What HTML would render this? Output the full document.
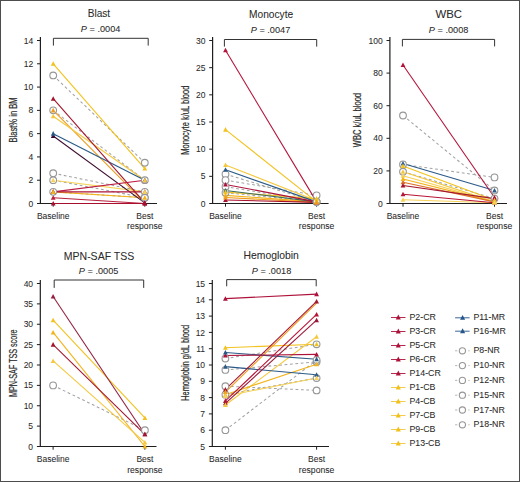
<!DOCTYPE html><html><head><meta charset="utf-8"><style>html,body{margin:0;padding:0;background:#fff;width:520px;height:482px;overflow:hidden}svg{display:block}text{font-family:"Liberation Sans", sans-serif;stroke:#2a2a2a;stroke-width:0.06px}</style></head><body>
<svg width="520" height="482" viewBox="0 0 520 482">
<rect x="0" y="0" width="520" height="482" fill="#fff"/>
<text x="98.9" y="17" font-size="10.5" fill="#2a2a2a" stroke="#2a2a2a" stroke-width="0.05" text-anchor="middle" textLength="22.4" lengthAdjust="spacingAndGlyphs">Blast</text>
<text x="100.6" y="32" font-size="8.5" fill="#2a2a2a" text-anchor="middle" textLength="39.5" lengthAdjust="spacingAndGlyphs"><tspan font-style="italic">P</tspan> = .0004</text>
<path d="M53.4 45.6V38.3H148.2V45.6" fill="none" stroke="#333" stroke-width="1"/>
<path d="M40.4 37.1V203.5H157" fill="none" stroke="#1e1e1e" stroke-width="1.2"/>
<path d="M37 203.5H40.4" stroke="#1e1e1e" stroke-width="1"/>
<text x="33.2" y="206.6" font-size="8.5" fill="#2a2a2a" text-anchor="end">0</text>
<path d="M37 180.21H40.4" stroke="#1e1e1e" stroke-width="1"/>
<text x="33.2" y="183.31" font-size="8.5" fill="#2a2a2a" text-anchor="end">2</text>
<path d="M37 156.93H40.4" stroke="#1e1e1e" stroke-width="1"/>
<text x="33.2" y="160.03" font-size="8.5" fill="#2a2a2a" text-anchor="end">4</text>
<path d="M37 133.64H40.4" stroke="#1e1e1e" stroke-width="1"/>
<text x="33.2" y="136.74" font-size="8.5" fill="#2a2a2a" text-anchor="end">6</text>
<path d="M37 110.36H40.4" stroke="#1e1e1e" stroke-width="1"/>
<text x="33.2" y="113.46" font-size="8.5" fill="#2a2a2a" text-anchor="end">8</text>
<path d="M37 87.07H40.4" stroke="#1e1e1e" stroke-width="1"/>
<text x="33.2" y="90.17" font-size="8.5" fill="#2a2a2a" text-anchor="end">10</text>
<path d="M37 63.79H40.4" stroke="#1e1e1e" stroke-width="1"/>
<text x="33.2" y="66.89" font-size="8.5" fill="#2a2a2a" text-anchor="end">12</text>
<path d="M37 40.5H40.4" stroke="#1e1e1e" stroke-width="1"/>
<text x="33.2" y="43.6" font-size="8.5" fill="#2a2a2a" text-anchor="end">14</text>
<path d="M53.2 203.5V206.7" stroke="#1e1e1e" stroke-width="1"/>
<path d="M144.8 203.5V206.7" stroke="#1e1e1e" stroke-width="1"/>
<text x="53.2" y="218.5" font-size="8.5" fill="#2a2a2a" text-anchor="middle">Baseline</text>
<text x="144.8" y="218.5" font-size="8.5" fill="#2a2a2a" text-anchor="middle">Best</text>
<text x="144.8" y="228.7" font-size="8.5" fill="#2a2a2a" text-anchor="middle" textLength="35.5" lengthAdjust="spacingAndGlyphs">response</text>
<text x="0" y="0" font-size="10.5" style="stroke-width:0.2px" fill="#2a2a2a" text-anchor="middle" textLength="45" lengthAdjust="spacingAndGlyphs" transform="translate(16.7 119.95) rotate(-90)">Blast% in BM</text>
<path d="M53.2 75.43L144.8 162.75" stroke="#a2a2a2" stroke-width="1.05" stroke-dasharray="2.8 2.6" fill="none"/>
<path d="M53.2 110.36L144.8 180.21" stroke="#a2a2a2" stroke-width="1.05" stroke-dasharray="2.8 2.6" fill="none"/>
<path d="M53.2 173.23L144.8 191.86" stroke="#a2a2a2" stroke-width="1.05" stroke-dasharray="2.8 2.6" fill="none"/>
<path d="M53.2 180.21L144.8 197.68" stroke="#a2a2a2" stroke-width="1.05" stroke-dasharray="2.8 2.6" fill="none"/>
<path d="M53.2 191.86L144.8 197.68" stroke="#a2a2a2" stroke-width="1.05" stroke-dasharray="2.8 2.6" fill="none"/>
<path d="M53.2 63.79L144.8 168.57" stroke="#f2c21e" stroke-width="1.1" fill="none"/>
<path d="M53.2 110.36L144.8 202.92" stroke="#ef9b1c" stroke-width="1.1" fill="none"/>
<path d="M53.2 116.18L144.8 180.21" stroke="#f4c93e" stroke-width="1.1" fill="none"/>
<path d="M53.2 180.21L144.8 191.86" stroke="#f6d25a" stroke-width="1.1" fill="none"/>
<path d="M53.2 191.86L144.8 197.68" stroke="#f3b31a" stroke-width="1.1" fill="none"/>
<path d="M53.2 133.64L144.8 180.21" stroke="#2b5a86" stroke-width="1.1" fill="none"/>
<path d="M53.2 135.97L144.8 202.92" stroke="#3e0d31" stroke-width="1.1" fill="none"/>
<path d="M53.2 98.71L144.8 202.92" stroke="#a3162e" stroke-width="1.1" fill="none"/>
<path d="M53.2 191.86L144.8 180.21" stroke="#bb1a40" stroke-width="1.1" fill="none"/>
<path d="M53.2 191.86L144.8 191.86" stroke="#ad123a" stroke-width="1.1" fill="none"/>
<path d="M53.2 197.68L144.8 203.5" stroke="#b8203e" stroke-width="1.1" fill="none"/>
<path d="M53.2 203.5L144.8 203.5" stroke="#a80f2c" stroke-width="1.1" fill="none"/>
<circle cx="53.2" cy="75.43" r="3.35" fill="#fff" stroke="#969696" stroke-width="1.1"/>
<circle cx="144.8" cy="162.75" r="3.35" fill="#fff" stroke="#969696" stroke-width="1.1"/>
<circle cx="53.2" cy="110.36" r="3.35" fill="#fff" stroke="#969696" stroke-width="1.1"/>
<circle cx="144.8" cy="180.21" r="3.35" fill="#fff" stroke="#969696" stroke-width="1.1"/>
<circle cx="53.2" cy="173.23" r="3.35" fill="#fff" stroke="#969696" stroke-width="1.1"/>
<circle cx="144.8" cy="191.86" r="3.35" fill="#fff" stroke="#969696" stroke-width="1.1"/>
<circle cx="53.2" cy="180.21" r="3.35" fill="#fff" stroke="#969696" stroke-width="1.1"/>
<circle cx="144.8" cy="197.68" r="3.35" fill="#fff" stroke="#969696" stroke-width="1.1"/>
<circle cx="53.2" cy="191.86" r="3.35" fill="#fff" stroke="#969696" stroke-width="1.1"/>
<circle cx="144.8" cy="197.68" r="3.35" fill="#fff" stroke="#969696" stroke-width="1.1"/>
<path d="M53.2 133.45L55.6 138.01L50.8 138.01Z" fill="#3e0d31"/>
<path d="M144.8 200.4L147.2 204.96L142.4 204.96Z" fill="#3e0d31"/>
<path d="M53.2 96.19L55.6 100.75L50.8 100.75Z" fill="#a3162e"/>
<path d="M144.8 200.4L147.2 204.96L142.4 204.96Z" fill="#a3162e"/>
<path d="M53.2 189.34L55.6 193.9L50.8 193.9Z" fill="#bb1a40"/>
<path d="M144.8 177.69L147.2 182.25L142.4 182.25Z" fill="#bb1a40"/>
<path d="M53.2 189.34L55.6 193.9L50.8 193.9Z" fill="#ad123a"/>
<path d="M144.8 189.34L147.2 193.9L142.4 193.9Z" fill="#ad123a"/>
<path d="M53.2 195.16L55.6 199.72L50.8 199.72Z" fill="#b8203e"/>
<path d="M144.8 200.98L147.2 205.54L142.4 205.54Z" fill="#b8203e"/>
<path d="M53.2 200.98L55.6 205.54L50.8 205.54Z" fill="#a80f2c"/>
<path d="M144.8 200.98L147.2 205.54L142.4 205.54Z" fill="#a80f2c"/>
<path d="M53.2 131.12L55.6 135.68L50.8 135.68Z" fill="#2b5a86"/>
<path d="M144.8 177.69L147.2 182.25L142.4 182.25Z" fill="#2b5a86"/>
<path d="M53.2 61.27L55.6 65.83L50.8 65.83Z" fill="#f2c21e"/>
<path d="M144.8 166.05L147.2 170.61L142.4 170.61Z" fill="#f2c21e"/>
<path d="M53.2 107.84L55.6 112.4L50.8 112.4Z" fill="#ef9b1c"/>
<path d="M53.2 113.66L55.6 118.22L50.8 118.22Z" fill="#f4c93e"/>
<path d="M144.8 177.69L147.2 182.25L142.4 182.25Z" fill="#f4c93e"/>
<path d="M53.2 177.69L55.6 182.25L50.8 182.25Z" fill="#f6d25a"/>
<path d="M144.8 189.34L147.2 193.9L142.4 193.9Z" fill="#f6d25a"/>
<path d="M53.2 189.34L55.6 193.9L50.8 193.9Z" fill="#f3b31a"/>
<path d="M144.8 195.16L147.2 199.72L142.4 199.72Z" fill="#f3b31a"/>
<text x="271.1" y="17.6" font-size="10.5" fill="#2a2a2a" stroke="#2a2a2a" stroke-width="0.05" text-anchor="middle" textLength="44.1" lengthAdjust="spacingAndGlyphs">Monocyte</text>
<text x="270.5" y="32.5" font-size="8.5" fill="#2a2a2a" text-anchor="middle" textLength="39.5" lengthAdjust="spacingAndGlyphs"><tspan font-style="italic">P</tspan> = .0047</text>
<path d="M224.4 46.6V39.5H316.7V46.6" fill="none" stroke="#333" stroke-width="1"/>
<path d="M212.6 37.1V203.5H328.6" fill="none" stroke="#1e1e1e" stroke-width="1.2"/>
<path d="M209.2 203.5H212.6" stroke="#1e1e1e" stroke-width="1"/>
<text x="205.4" y="206.6" font-size="8.5" fill="#2a2a2a" text-anchor="end">0</text>
<path d="M209.2 176.33H212.6" stroke="#1e1e1e" stroke-width="1"/>
<text x="205.4" y="179.43" font-size="8.5" fill="#2a2a2a" text-anchor="end">5</text>
<path d="M209.2 149.17H212.6" stroke="#1e1e1e" stroke-width="1"/>
<text x="205.4" y="152.27" font-size="8.5" fill="#2a2a2a" text-anchor="end">10</text>
<path d="M209.2 122H212.6" stroke="#1e1e1e" stroke-width="1"/>
<text x="205.4" y="125.1" font-size="8.5" fill="#2a2a2a" text-anchor="end">15</text>
<path d="M209.2 94.83H212.6" stroke="#1e1e1e" stroke-width="1"/>
<text x="205.4" y="97.93" font-size="8.5" fill="#2a2a2a" text-anchor="end">20</text>
<path d="M209.2 67.67H212.6" stroke="#1e1e1e" stroke-width="1"/>
<text x="205.4" y="70.77" font-size="8.5" fill="#2a2a2a" text-anchor="end">25</text>
<path d="M209.2 40.5H212.6" stroke="#1e1e1e" stroke-width="1"/>
<text x="205.4" y="43.6" font-size="8.5" fill="#2a2a2a" text-anchor="end">30</text>
<path d="M225.5 203.5V206.7" stroke="#1e1e1e" stroke-width="1"/>
<path d="M316.6 203.5V206.7" stroke="#1e1e1e" stroke-width="1"/>
<text x="225.5" y="218.5" font-size="8.5" fill="#2a2a2a" text-anchor="middle">Baseline</text>
<text x="316.6" y="218.5" font-size="8.5" fill="#2a2a2a" text-anchor="middle">Best</text>
<text x="316.6" y="228.7" font-size="8.5" fill="#2a2a2a" text-anchor="middle" textLength="35.5" lengthAdjust="spacingAndGlyphs">response</text>
<text x="0" y="0" font-size="10.5" style="stroke-width:0.2px" fill="#2a2a2a" text-anchor="middle" textLength="69.1" lengthAdjust="spacingAndGlyphs" transform="translate(188.9 120.2) rotate(-90)">Monocyte k/uL blood</text>
<path d="M225.5 174.16L316.6 201.87" stroke="#a2a2a2" stroke-width="1.05" stroke-dasharray="2.8 2.6" fill="none"/>
<path d="M225.5 180.14L316.6 195.35" stroke="#a2a2a2" stroke-width="1.05" stroke-dasharray="2.8 2.6" fill="none"/>
<path d="M225.5 186.66L316.6 201.87" stroke="#a2a2a2" stroke-width="1.05" stroke-dasharray="2.8 2.6" fill="none"/>
<path d="M225.5 192.63L316.6 201.87" stroke="#a2a2a2" stroke-width="1.05" stroke-dasharray="2.8 2.6" fill="none"/>
<path d="M225.5 129.61L316.6 201.87" stroke="#f2c21e" stroke-width="1.1" fill="none"/>
<path d="M225.5 164.92L316.6 200.78" stroke="#f4c93e" stroke-width="1.1" fill="none"/>
<path d="M225.5 192.09L316.6 198.61" stroke="#f2c21e" stroke-width="1.1" fill="none"/>
<path d="M225.5 195.35L316.6 201.87" stroke="#f3b31a" stroke-width="1.1" fill="none"/>
<path d="M225.5 197.52L316.6 202.41" stroke="#ef9b1c" stroke-width="1.1" fill="none"/>
<path d="M225.5 169.81L316.6 201.87" stroke="#2b5a86" stroke-width="1.1" fill="none"/>
<path d="M225.5 190.46L316.6 201.87" stroke="#3a6a5a" stroke-width="1.1" fill="none"/>
<path d="M225.5 50.28L316.6 201.87" stroke="#b3133a" stroke-width="1.1" fill="none"/>
<path d="M225.5 184.48L316.6 201.87" stroke="#ad123a" stroke-width="1.1" fill="none"/>
<path d="M225.5 199.97L316.6 202.41" stroke="#a80f2c" stroke-width="1.1" fill="none"/>
<circle cx="225.5" cy="174.16" r="3.35" fill="#fff" stroke="#969696" stroke-width="1.1"/>
<circle cx="316.6" cy="201.87" r="3.35" fill="#fff" stroke="#969696" stroke-width="1.1"/>
<circle cx="225.5" cy="180.14" r="3.35" fill="#fff" stroke="#969696" stroke-width="1.1"/>
<circle cx="316.6" cy="195.35" r="3.35" fill="#fff" stroke="#969696" stroke-width="1.1"/>
<circle cx="225.5" cy="186.66" r="3.35" fill="#fff" stroke="#969696" stroke-width="1.1"/>
<circle cx="316.6" cy="201.87" r="3.35" fill="#fff" stroke="#969696" stroke-width="1.1"/>
<circle cx="225.5" cy="192.63" r="3.35" fill="#fff" stroke="#969696" stroke-width="1.1"/>
<circle cx="316.6" cy="201.87" r="3.35" fill="#fff" stroke="#969696" stroke-width="1.1"/>
<path d="M225.5 47.76L227.9 52.32L223.1 52.32Z" fill="#b3133a"/>
<path d="M316.6 199.35L319 203.91L314.2 203.91Z" fill="#b3133a"/>
<path d="M225.5 181.96L227.9 186.52L223.1 186.52Z" fill="#ad123a"/>
<path d="M316.6 199.35L319 203.91L314.2 203.91Z" fill="#ad123a"/>
<path d="M225.5 197.45L227.9 202.01L223.1 202.01Z" fill="#a80f2c"/>
<path d="M316.6 199.89L319 204.45L314.2 204.45Z" fill="#a80f2c"/>
<path d="M225.5 167.29L227.9 171.85L223.1 171.85Z" fill="#2b5a86"/>
<path d="M316.6 199.35L319 203.91L314.2 203.91Z" fill="#2b5a86"/>
<path d="M225.5 187.94L227.9 192.5L223.1 192.5Z" fill="#3a6a5a"/>
<path d="M316.6 199.35L319 203.91L314.2 203.91Z" fill="#3a6a5a"/>
<path d="M225.5 127.09L227.9 131.65L223.1 131.65Z" fill="#f2c21e"/>
<path d="M316.6 199.35L319 203.91L314.2 203.91Z" fill="#f2c21e"/>
<path d="M225.5 162.4L227.9 166.96L223.1 166.96Z" fill="#f4c93e"/>
<path d="M316.6 198.26L319 202.82L314.2 202.82Z" fill="#f4c93e"/>
<path d="M225.5 189.57L227.9 194.13L223.1 194.13Z" fill="#f2c21e"/>
<path d="M316.6 196.09L319 200.65L314.2 200.65Z" fill="#f2c21e"/>
<path d="M225.5 192.83L227.9 197.39L223.1 197.39Z" fill="#f3b31a"/>
<path d="M316.6 199.35L319 203.91L314.2 203.91Z" fill="#f3b31a"/>
<path d="M225.5 195L227.9 199.56L223.1 199.56Z" fill="#ef9b1c"/>
<path d="M316.6 199.89L319 204.45L314.2 204.45Z" fill="#ef9b1c"/>
<text x="448.7" y="18.2" font-size="10.5" fill="#2a2a2a" stroke="#2a2a2a" stroke-width="0.05" text-anchor="middle" textLength="26.5" lengthAdjust="spacingAndGlyphs">WBC</text>
<text x="448.6" y="32.5" font-size="8.5" fill="#2a2a2a" text-anchor="middle" textLength="39.5" lengthAdjust="spacingAndGlyphs"><tspan font-style="italic">P</tspan> = .0008</text>
<path d="M402.4 46.4V39.4H494.6V46.4" fill="none" stroke="#333" stroke-width="1"/>
<path d="M389.9 37.1V203.5H507" fill="none" stroke="#1e1e1e" stroke-width="1.2"/>
<path d="M386.5 203.5H389.9" stroke="#1e1e1e" stroke-width="1"/>
<text x="382.7" y="206.6" font-size="8.5" fill="#2a2a2a" text-anchor="end">0</text>
<path d="M386.5 170.9H389.9" stroke="#1e1e1e" stroke-width="1"/>
<text x="382.7" y="174" font-size="8.5" fill="#2a2a2a" text-anchor="end">20</text>
<path d="M386.5 138.3H389.9" stroke="#1e1e1e" stroke-width="1"/>
<text x="382.7" y="141.4" font-size="8.5" fill="#2a2a2a" text-anchor="end">40</text>
<path d="M386.5 105.7H389.9" stroke="#1e1e1e" stroke-width="1"/>
<text x="382.7" y="108.8" font-size="8.5" fill="#2a2a2a" text-anchor="end">60</text>
<path d="M386.5 73.1H389.9" stroke="#1e1e1e" stroke-width="1"/>
<text x="382.7" y="76.2" font-size="8.5" fill="#2a2a2a" text-anchor="end">80</text>
<path d="M386.5 40.5H389.9" stroke="#1e1e1e" stroke-width="1"/>
<text x="382.7" y="43.6" font-size="8.5" fill="#2a2a2a" text-anchor="end">100</text>
<path d="M403 203.5V206.7" stroke="#1e1e1e" stroke-width="1"/>
<path d="M494.5 203.5V206.7" stroke="#1e1e1e" stroke-width="1"/>
<text x="403" y="218.5" font-size="8.5" fill="#2a2a2a" text-anchor="middle">Baseline</text>
<text x="494.5" y="218.5" font-size="8.5" fill="#2a2a2a" text-anchor="middle">Best</text>
<text x="494.5" y="228.7" font-size="8.5" fill="#2a2a2a" text-anchor="middle" textLength="35.5" lengthAdjust="spacingAndGlyphs">response</text>
<text x="0" y="0" font-size="10.5" style="stroke-width:0.2px" fill="#2a2a2a" text-anchor="middle" textLength="54.2" lengthAdjust="spacingAndGlyphs" transform="translate(361.2 120.05) rotate(-90)">WBC k/uL blood</text>
<path d="M403 115.48L494.5 190.46" stroke="#a2a2a2" stroke-width="1.05" stroke-dasharray="2.8 2.6" fill="none"/>
<path d="M403 164.38L494.5 177.42" stroke="#a2a2a2" stroke-width="1.05" stroke-dasharray="2.8 2.6" fill="none"/>
<path d="M403 171.72L494.5 198.61" stroke="#a2a2a2" stroke-width="1.05" stroke-dasharray="2.8 2.6" fill="none"/>
<path d="M403 166.01L494.5 200.24" stroke="#f2c21e" stroke-width="1.1" fill="none"/>
<path d="M403 171.72L494.5 201.87" stroke="#f4c93e" stroke-width="1.1" fill="none"/>
<path d="M403 175.79L494.5 201.87" stroke="#f6d25a" stroke-width="1.1" fill="none"/>
<path d="M403 179.05L494.5 201.87" stroke="#f3b31a" stroke-width="1.1" fill="none"/>
<path d="M403 199.75L494.5 202.69" stroke="#f6d25a" stroke-width="1.1" fill="none"/>
<path d="M403 163.56L494.5 190.46" stroke="#2b5a86" stroke-width="1.1" fill="none"/>
<path d="M403 64.95L494.5 197.47" stroke="#b3133a" stroke-width="1.1" fill="none"/>
<path d="M403 182.31L494.5 201.87" stroke="#e0702a" stroke-width="1.1" fill="none"/>
<path d="M403 185.57L494.5 198.61" stroke="#a3162e" stroke-width="1.1" fill="none"/>
<path d="M403 194.21L494.5 202.69" stroke="#b81436" stroke-width="1.1" fill="none"/>
<circle cx="403" cy="115.48" r="3.35" fill="#fff" stroke="#969696" stroke-width="1.1"/>
<circle cx="494.5" cy="190.46" r="3.35" fill="#fff" stroke="#969696" stroke-width="1.1"/>
<circle cx="403" cy="164.38" r="3.35" fill="#fff" stroke="#969696" stroke-width="1.1"/>
<circle cx="494.5" cy="177.42" r="3.35" fill="#fff" stroke="#969696" stroke-width="1.1"/>
<circle cx="403" cy="171.72" r="3.35" fill="#fff" stroke="#969696" stroke-width="1.1"/>
<circle cx="494.5" cy="198.61" r="3.35" fill="#fff" stroke="#969696" stroke-width="1.1"/>
<path d="M403 62.43L405.4 66.99L400.6 66.99Z" fill="#b3133a"/>
<path d="M494.5 194.95L496.9 199.51L492.1 199.51Z" fill="#b3133a"/>
<path d="M403 179.79L405.4 184.35L400.6 184.35Z" fill="#e0702a"/>
<path d="M494.5 199.35L496.9 203.91L492.1 203.91Z" fill="#e0702a"/>
<path d="M403 183.05L405.4 187.61L400.6 187.61Z" fill="#a3162e"/>
<path d="M494.5 196.09L496.9 200.65L492.1 200.65Z" fill="#a3162e"/>
<path d="M403 191.69L405.4 196.25L400.6 196.25Z" fill="#b81436"/>
<path d="M494.5 200.16L496.9 204.72L492.1 204.72Z" fill="#b81436"/>
<path d="M403 161.04L405.4 165.6L400.6 165.6Z" fill="#2b5a86"/>
<path d="M494.5 187.94L496.9 192.5L492.1 192.5Z" fill="#2b5a86"/>
<path d="M403 163.49L405.4 168.05L400.6 168.05Z" fill="#f2c21e"/>
<path d="M494.5 197.72L496.9 202.28L492.1 202.28Z" fill="#f2c21e"/>
<path d="M403 169.19L405.4 173.75L400.6 173.75Z" fill="#f4c93e"/>
<path d="M494.5 199.35L496.9 203.91L492.1 203.91Z" fill="#f4c93e"/>
<path d="M403 173.27L405.4 177.83L400.6 177.83Z" fill="#f6d25a"/>
<path d="M494.5 199.35L496.9 203.91L492.1 203.91Z" fill="#f6d25a"/>
<path d="M403 176.53L405.4 181.09L400.6 181.09Z" fill="#f3b31a"/>
<path d="M494.5 199.35L496.9 203.91L492.1 203.91Z" fill="#f3b31a"/>
<path d="M403 197.23L405.4 201.79L400.6 201.79Z" fill="#f6d25a"/>
<path d="M494.5 200.16L496.9 204.72L492.1 204.72Z" fill="#f6d25a"/>
<text x="99" y="259.5" font-size="10.5" fill="#2a2a2a" stroke="#2a2a2a" stroke-width="0.05" text-anchor="middle" textLength="70.4" lengthAdjust="spacingAndGlyphs">MPN-SAF TSS</text>
<text x="98.6" y="273.8" font-size="8.5" fill="#2a2a2a" text-anchor="middle" textLength="39.5" lengthAdjust="spacingAndGlyphs"><tspan font-style="italic">P</tspan> = .0005</text>
<path d="M54.2 287.9V280H143.7V287.9" fill="none" stroke="#333" stroke-width="1"/>
<path d="M40.3 280.1V446.5H156.5" fill="none" stroke="#1e1e1e" stroke-width="1.2"/>
<path d="M36.9 446.5H40.3" stroke="#1e1e1e" stroke-width="1"/>
<text x="33.1" y="449.6" font-size="8.5" fill="#2a2a2a" text-anchor="end">0</text>
<path d="M36.9 426.12H40.3" stroke="#1e1e1e" stroke-width="1"/>
<text x="33.1" y="429.23" font-size="8.5" fill="#2a2a2a" text-anchor="end">5</text>
<path d="M36.9 405.75H40.3" stroke="#1e1e1e" stroke-width="1"/>
<text x="33.1" y="408.85" font-size="8.5" fill="#2a2a2a" text-anchor="end">10</text>
<path d="M36.9 385.38H40.3" stroke="#1e1e1e" stroke-width="1"/>
<text x="33.1" y="388.48" font-size="8.5" fill="#2a2a2a" text-anchor="end">15</text>
<path d="M36.9 365H40.3" stroke="#1e1e1e" stroke-width="1"/>
<text x="33.1" y="368.1" font-size="8.5" fill="#2a2a2a" text-anchor="end">20</text>
<path d="M36.9 344.62H40.3" stroke="#1e1e1e" stroke-width="1"/>
<text x="33.1" y="347.73" font-size="8.5" fill="#2a2a2a" text-anchor="end">25</text>
<path d="M36.9 324.25H40.3" stroke="#1e1e1e" stroke-width="1"/>
<text x="33.1" y="327.35" font-size="8.5" fill="#2a2a2a" text-anchor="end">30</text>
<path d="M36.9 303.88H40.3" stroke="#1e1e1e" stroke-width="1"/>
<text x="33.1" y="306.98" font-size="8.5" fill="#2a2a2a" text-anchor="end">35</text>
<path d="M36.9 283.5H40.3" stroke="#1e1e1e" stroke-width="1"/>
<text x="33.1" y="286.6" font-size="8.5" fill="#2a2a2a" text-anchor="end">40</text>
<path d="M53.1 446.5V449.7" stroke="#1e1e1e" stroke-width="1"/>
<path d="M144.9 446.5V449.7" stroke="#1e1e1e" stroke-width="1"/>
<text x="53.1" y="461.5" font-size="8.5" fill="#2a2a2a" text-anchor="middle">Baseline</text>
<text x="144.9" y="461.5" font-size="8.5" fill="#2a2a2a" text-anchor="middle">Best</text>
<text x="144.9" y="472.5" font-size="8.5" fill="#2a2a2a" text-anchor="middle" textLength="35.5" lengthAdjust="spacingAndGlyphs">response</text>
<text x="0" y="0" font-size="10.5" style="stroke-width:0.2px" fill="#2a2a2a" text-anchor="middle" textLength="67.5" lengthAdjust="spacingAndGlyphs" transform="translate(17 363.2) rotate(-90)">MPN-SAF TSS score</text>
<path d="M53.1 385.38L144.9 430.2" stroke="#a2a2a2" stroke-width="1.05" stroke-dasharray="2.8 2.6" fill="none"/>
<path d="M53.1 320.18L144.9 417.98" stroke="#f2c21e" stroke-width="1.1" fill="none"/>
<path d="M53.1 332.4L144.9 446.5" stroke="#f3b31a" stroke-width="1.1" fill="none"/>
<path d="M53.1 360.93L144.9 442.43" stroke="#f4c93e" stroke-width="1.1" fill="none"/>
<path d="M53.1 296.54L144.9 434.27" stroke="#952040" stroke-width="1.1" fill="none"/>
<path d="M53.1 344.62L144.9 434.27" stroke="#a3162e" stroke-width="1.1" fill="none"/>
<circle cx="53.1" cy="385.38" r="3.35" fill="#fff" stroke="#969696" stroke-width="1.1"/>
<circle cx="144.9" cy="430.2" r="3.35" fill="#fff" stroke="#969696" stroke-width="1.1"/>
<path d="M53.1 294.02L55.5 298.58L50.7 298.58Z" fill="#952040"/>
<path d="M144.9 431.75L147.3 436.31L142.5 436.31Z" fill="#952040"/>
<path d="M53.1 342.11L55.5 346.67L50.7 346.67Z" fill="#a3162e"/>
<path d="M144.9 431.75L147.3 436.31L142.5 436.31Z" fill="#a3162e"/>
<path d="M53.1 317.66L55.5 322.22L50.7 322.22Z" fill="#f2c21e"/>
<path d="M144.9 415.46L147.3 420.02L142.5 420.02Z" fill="#f2c21e"/>
<path d="M53.1 329.88L55.5 334.44L50.7 334.44Z" fill="#f3b31a"/>
<path d="M144.9 443.98L147.3 448.54L142.5 448.54Z" fill="#f3b31a"/>
<path d="M53.1 358.41L55.5 362.97L50.7 362.97Z" fill="#f4c93e"/>
<path d="M144.9 439.91L147.3 444.47L142.5 444.47Z" fill="#f4c93e"/>
<text x="271.2" y="258.6" font-size="10.5" fill="#2a2a2a" stroke="#2a2a2a" stroke-width="0.05" text-anchor="middle" textLength="55.3" lengthAdjust="spacingAndGlyphs">Hemoglobin</text>
<text x="271.5" y="273.5" font-size="8.5" fill="#2a2a2a" text-anchor="middle" textLength="39.5" lengthAdjust="spacingAndGlyphs"><tspan font-style="italic">P</tspan> = .0018</text>
<path d="M226.7 286.3V279.6H316.2V286.3" fill="none" stroke="#333" stroke-width="1"/>
<path d="M212.3 280.1V446.5H329" fill="none" stroke="#1e1e1e" stroke-width="1.2"/>
<path d="M208.9 446.5H212.3" stroke="#1e1e1e" stroke-width="1"/>
<text x="205.1" y="449.6" font-size="8.5" fill="#2a2a2a" text-anchor="end">5</text>
<path d="M208.9 430.2H212.3" stroke="#1e1e1e" stroke-width="1"/>
<text x="205.1" y="433.3" font-size="8.5" fill="#2a2a2a" text-anchor="end">6</text>
<path d="M208.9 413.9H212.3" stroke="#1e1e1e" stroke-width="1"/>
<text x="205.1" y="417" font-size="8.5" fill="#2a2a2a" text-anchor="end">7</text>
<path d="M208.9 397.6H212.3" stroke="#1e1e1e" stroke-width="1"/>
<text x="205.1" y="400.7" font-size="8.5" fill="#2a2a2a" text-anchor="end">8</text>
<path d="M208.9 381.3H212.3" stroke="#1e1e1e" stroke-width="1"/>
<text x="205.1" y="384.4" font-size="8.5" fill="#2a2a2a" text-anchor="end">9</text>
<path d="M208.9 365H212.3" stroke="#1e1e1e" stroke-width="1"/>
<text x="205.1" y="368.1" font-size="8.5" fill="#2a2a2a" text-anchor="end">10</text>
<path d="M208.9 348.7H212.3" stroke="#1e1e1e" stroke-width="1"/>
<text x="205.1" y="351.8" font-size="8.5" fill="#2a2a2a" text-anchor="end">11</text>
<path d="M208.9 332.4H212.3" stroke="#1e1e1e" stroke-width="1"/>
<text x="205.1" y="335.5" font-size="8.5" fill="#2a2a2a" text-anchor="end">12</text>
<path d="M208.9 316.1H212.3" stroke="#1e1e1e" stroke-width="1"/>
<text x="205.1" y="319.2" font-size="8.5" fill="#2a2a2a" text-anchor="end">13</text>
<path d="M208.9 299.8H212.3" stroke="#1e1e1e" stroke-width="1"/>
<text x="205.1" y="302.9" font-size="8.5" fill="#2a2a2a" text-anchor="end">14</text>
<path d="M208.9 283.5H212.3" stroke="#1e1e1e" stroke-width="1"/>
<text x="205.1" y="286.6" font-size="8.5" fill="#2a2a2a" text-anchor="end">15</text>
<path d="M225.4 446.5V449.7" stroke="#1e1e1e" stroke-width="1"/>
<path d="M316.6 446.5V449.7" stroke="#1e1e1e" stroke-width="1"/>
<text x="225.4" y="461.5" font-size="8.5" fill="#2a2a2a" text-anchor="middle">Baseline</text>
<text x="316.6" y="461.5" font-size="8.5" fill="#2a2a2a" text-anchor="middle">Best</text>
<text x="316.6" y="472.5" font-size="8.5" fill="#2a2a2a" text-anchor="middle" textLength="35.5" lengthAdjust="spacingAndGlyphs">response</text>
<text x="0" y="0" font-size="10.5" style="stroke-width:0.2px" fill="#2a2a2a" text-anchor="middle" textLength="75.9" lengthAdjust="spacingAndGlyphs" transform="translate(189 362.9) rotate(-90)">Hemoglobin g/dL blood</text>
<path d="M225.4 358.48L316.6 344.3" stroke="#a2a2a2" stroke-width="1.05" stroke-dasharray="2.8 2.6" fill="none"/>
<path d="M225.4 369.89L316.6 361.9" stroke="#a2a2a2" stroke-width="1.05" stroke-dasharray="2.8 2.6" fill="none"/>
<path d="M225.4 386.19L316.6 390.43" stroke="#a2a2a2" stroke-width="1.05" stroke-dasharray="2.8 2.6" fill="none"/>
<path d="M225.4 430.2L316.6 360.11" stroke="#a2a2a2" stroke-width="1.05" stroke-dasharray="2.8 2.6" fill="none"/>
<path d="M225.4 394.67L316.6 378.04" stroke="#a2a2a2" stroke-width="1.05" stroke-dasharray="2.8 2.6" fill="none"/>
<path d="M225.4 347.72L316.6 344.3" stroke="#f2c21e" stroke-width="1.1" fill="none"/>
<path d="M225.4 404.94L316.6 336.8" stroke="#f4c93e" stroke-width="1.1" fill="none"/>
<path d="M225.4 392.06L316.6 303.06" stroke="#ef9b1c" stroke-width="1.1" fill="none"/>
<path d="M225.4 394.67L316.6 364.19" stroke="#f3b31a" stroke-width="1.1" fill="none"/>
<path d="M225.4 395.97L316.6 378.04" stroke="#f6d25a" stroke-width="1.1" fill="none"/>
<path d="M225.4 352.45L316.6 359.3" stroke="#2b5a86" stroke-width="1.1" fill="none"/>
<path d="M225.4 366.63L316.6 374.78" stroke="#2b5a86" stroke-width="1.1" fill="none"/>
<path d="M225.4 298.66L316.6 294.1" stroke="#ad123a" stroke-width="1.1" fill="none"/>
<path d="M225.4 355.55L316.6 354.4" stroke="#ad123a" stroke-width="1.1" fill="none"/>
<path d="M225.4 389.45L316.6 301.43" stroke="#a3162e" stroke-width="1.1" fill="none"/>
<path d="M225.4 400.86L316.6 314.47" stroke="#b81436" stroke-width="1.1" fill="none"/>
<path d="M225.4 403.31L316.6 320.18" stroke="#9a1838" stroke-width="1.1" fill="none"/>
<circle cx="225.4" cy="358.48" r="3.35" fill="#fff" stroke="#969696" stroke-width="1.1"/>
<circle cx="316.6" cy="344.3" r="3.35" fill="#fff" stroke="#969696" stroke-width="1.1"/>
<circle cx="225.4" cy="369.89" r="3.35" fill="#fff" stroke="#969696" stroke-width="1.1"/>
<circle cx="316.6" cy="361.9" r="3.35" fill="#fff" stroke="#969696" stroke-width="1.1"/>
<circle cx="225.4" cy="386.19" r="3.35" fill="#fff" stroke="#969696" stroke-width="1.1"/>
<circle cx="316.6" cy="390.43" r="3.35" fill="#fff" stroke="#969696" stroke-width="1.1"/>
<circle cx="225.4" cy="430.2" r="3.35" fill="#fff" stroke="#969696" stroke-width="1.1"/>
<circle cx="316.6" cy="360.11" r="3.35" fill="#fff" stroke="#969696" stroke-width="1.1"/>
<circle cx="225.4" cy="394.67" r="3.35" fill="#fff" stroke="#969696" stroke-width="1.1"/>
<circle cx="316.6" cy="378.04" r="3.35" fill="#fff" stroke="#969696" stroke-width="1.1"/>
<path d="M225.4 296.14L227.8 300.7L223 300.7Z" fill="#ad123a"/>
<path d="M316.6 291.58L319 296.14L314.2 296.14Z" fill="#ad123a"/>
<path d="M225.4 353.03L227.8 357.59L223 357.59Z" fill="#ad123a"/>
<path d="M316.6 351.88L319 356.44L314.2 356.44Z" fill="#ad123a"/>
<path d="M225.4 386.93L227.8 391.49L223 391.49Z" fill="#a3162e"/>
<path d="M316.6 298.91L319 303.47L314.2 303.47Z" fill="#a3162e"/>
<path d="M225.4 398.34L227.8 402.9L223 402.9Z" fill="#b81436"/>
<path d="M316.6 311.95L319 316.51L314.2 316.51Z" fill="#b81436"/>
<path d="M225.4 400.79L227.8 405.35L223 405.35Z" fill="#9a1838"/>
<path d="M316.6 317.66L319 322.22L314.2 322.22Z" fill="#9a1838"/>
<path d="M225.4 349.93L227.8 354.49L223 354.49Z" fill="#2b5a86"/>
<path d="M316.6 356.78L319 361.34L314.2 361.34Z" fill="#2b5a86"/>
<path d="M225.4 364.11L227.8 368.67L223 368.67Z" fill="#2b5a86"/>
<path d="M316.6 372.26L319 376.82L314.2 376.82Z" fill="#2b5a86"/>
<path d="M225.4 345.2L227.8 349.76L223 349.76Z" fill="#f2c21e"/>
<path d="M316.6 341.78L319 346.34L314.2 346.34Z" fill="#f2c21e"/>
<path d="M225.4 402.42L227.8 406.98L223 406.98Z" fill="#f4c93e"/>
<path d="M316.6 334.28L319 338.84L314.2 338.84Z" fill="#f4c93e"/>
<path d="M225.4 389.54L227.8 394.1L223 394.1Z" fill="#ef9b1c"/>
<path d="M225.4 392.15L227.8 396.71L223 396.71Z" fill="#f3b31a"/>
<path d="M316.6 361.67L319 366.23L314.2 366.23Z" fill="#f3b31a"/>
<path d="M225.4 393.45L227.8 398.01L223 398.01Z" fill="#f6d25a"/>
<path d="M316.6 375.52L319 380.08L314.2 380.08Z" fill="#f6d25a"/>
<path d="M391 317.5H405.5" stroke="#ad123a" stroke-width="0.9"/>
<path d="M398.3 314.62L400.85 319.47L395.75 319.47Z" fill="#ad123a"/>
<text x="409.5" y="320.1" font-size="8.8" fill="#2a2a2a">P2-CR</text>
<path d="M391 331.5H405.5" stroke="#ad123a" stroke-width="0.9"/>
<path d="M398.3 328.62L400.85 333.47L395.75 333.47Z" fill="#ad123a"/>
<text x="409.5" y="334.1" font-size="8.8" fill="#2a2a2a">P3-CR</text>
<path d="M391 345.5H405.5" stroke="#ad123a" stroke-width="0.9"/>
<path d="M398.3 342.62L400.85 347.47L395.75 347.47Z" fill="#ad123a"/>
<text x="409.5" y="348.1" font-size="8.8" fill="#2a2a2a">P5-CR</text>
<path d="M391 359.5H405.5" stroke="#ad123a" stroke-width="0.9"/>
<path d="M398.3 356.62L400.85 361.47L395.75 361.47Z" fill="#ad123a"/>
<text x="409.5" y="362.1" font-size="8.8" fill="#2a2a2a">P6-CR</text>
<path d="M391 373.5H405.5" stroke="#ad123a" stroke-width="0.9"/>
<path d="M398.3 370.62L400.85 375.47L395.75 375.47Z" fill="#ad123a"/>
<text x="409.5" y="376.1" font-size="8.8" fill="#2a2a2a">P14-CR</text>
<path d="M391 387.5H405.5" stroke="#f4c53a" stroke-width="0.9"/>
<path d="M398.3 384.62L400.85 389.47L395.75 389.47Z" fill="#f2c01a"/>
<text x="409.5" y="390.1" font-size="8.8" fill="#2a2a2a">P1-CB</text>
<path d="M391 401.5H405.5" stroke="#f4c53a" stroke-width="0.9"/>
<path d="M398.3 398.62L400.85 403.47L395.75 403.47Z" fill="#f2c01a"/>
<text x="409.5" y="404.1" font-size="8.8" fill="#2a2a2a">P4-CB</text>
<path d="M391 415.5H405.5" stroke="#f4c53a" stroke-width="0.9"/>
<path d="M398.3 412.62L400.85 417.47L395.75 417.47Z" fill="#f2c01a"/>
<text x="409.5" y="418.1" font-size="8.8" fill="#2a2a2a">P7-CB</text>
<path d="M391 429.5H405.5" stroke="#f4c53a" stroke-width="0.9"/>
<path d="M398.3 426.62L400.85 431.47L395.75 431.47Z" fill="#f2c01a"/>
<text x="409.5" y="432.1" font-size="8.8" fill="#2a2a2a">P9-CB</text>
<path d="M391 443.5H405.5" stroke="#f4c53a" stroke-width="0.9"/>
<path d="M398.3 440.62L400.85 445.47L395.75 445.47Z" fill="#f2c01a"/>
<text x="409.5" y="446.1" font-size="8.8" fill="#2a2a2a">P13-CB</text>
<path d="M455.1 317.8H469.6" stroke="#25558a" stroke-width="0.9"/>
<path d="M462.6 314.92L465.15 319.77L460.05 319.77Z" fill="#25558a"/>
<text x="473.5" y="320.4" font-size="8.8" fill="#2a2a2a">P11-MR</text>
<path d="M455.1 331.2H469.6" stroke="#25558a" stroke-width="0.9"/>
<path d="M462.6 328.32L465.15 333.17L460.05 333.17Z" fill="#25558a"/>
<text x="473.5" y="333.8" font-size="8.8" fill="#2a2a2a">P16-MR</text>
<path d="M455.1 350.8H469.6" stroke="#aaa" stroke-width="0.9" stroke-dasharray="2.2 2.2"/>
<circle cx="462.4" cy="350.8" r="3.8" fill="#fff"/>
<circle cx="462.4" cy="350.8" r="3.1" fill="#fff" stroke="#969696" stroke-width="1.1"/>
<text x="473.5" y="353.4" font-size="8.8" fill="#2a2a2a">P8-NR</text>
<path d="M455.1 365.6H469.6" stroke="#aaa" stroke-width="0.9" stroke-dasharray="2.2 2.2"/>
<circle cx="462.4" cy="365.6" r="3.8" fill="#fff"/>
<circle cx="462.4" cy="365.6" r="3.1" fill="#fff" stroke="#969696" stroke-width="1.1"/>
<text x="473.5" y="368.2" font-size="8.8" fill="#2a2a2a">P10-NR</text>
<path d="M455.1 380.4H469.6" stroke="#aaa" stroke-width="0.9" stroke-dasharray="2.2 2.2"/>
<circle cx="462.4" cy="380.4" r="3.8" fill="#fff"/>
<circle cx="462.4" cy="380.4" r="3.1" fill="#fff" stroke="#969696" stroke-width="1.1"/>
<text x="473.5" y="383" font-size="8.8" fill="#2a2a2a">P12-NR</text>
<path d="M455.1 395.2H469.6" stroke="#aaa" stroke-width="0.9" stroke-dasharray="2.2 2.2"/>
<circle cx="462.4" cy="395.2" r="3.8" fill="#fff"/>
<circle cx="462.4" cy="395.2" r="3.1" fill="#fff" stroke="#969696" stroke-width="1.1"/>
<text x="473.5" y="397.8" font-size="8.8" fill="#2a2a2a">P15-NR</text>
<path d="M455.1 410H469.6" stroke="#aaa" stroke-width="0.9" stroke-dasharray="2.2 2.2"/>
<circle cx="462.4" cy="410" r="3.8" fill="#fff"/>
<circle cx="462.4" cy="410" r="3.1" fill="#fff" stroke="#969696" stroke-width="1.1"/>
<text x="473.5" y="412.6" font-size="8.8" fill="#2a2a2a">P17-NR</text>
<path d="M455.1 424.8H469.6" stroke="#aaa" stroke-width="0.9" stroke-dasharray="2.2 2.2"/>
<circle cx="462.4" cy="424.8" r="3.8" fill="#fff"/>
<circle cx="462.4" cy="424.8" r="3.1" fill="#fff" stroke="#969696" stroke-width="1.1"/>
<text x="473.5" y="427.4" font-size="8.8" fill="#2a2a2a">P18-NR</text>
<rect x="0.5" y="0.5" width="519" height="481" fill="none" stroke="#4d4d4d" stroke-width="1"/>
</svg></body></html>
